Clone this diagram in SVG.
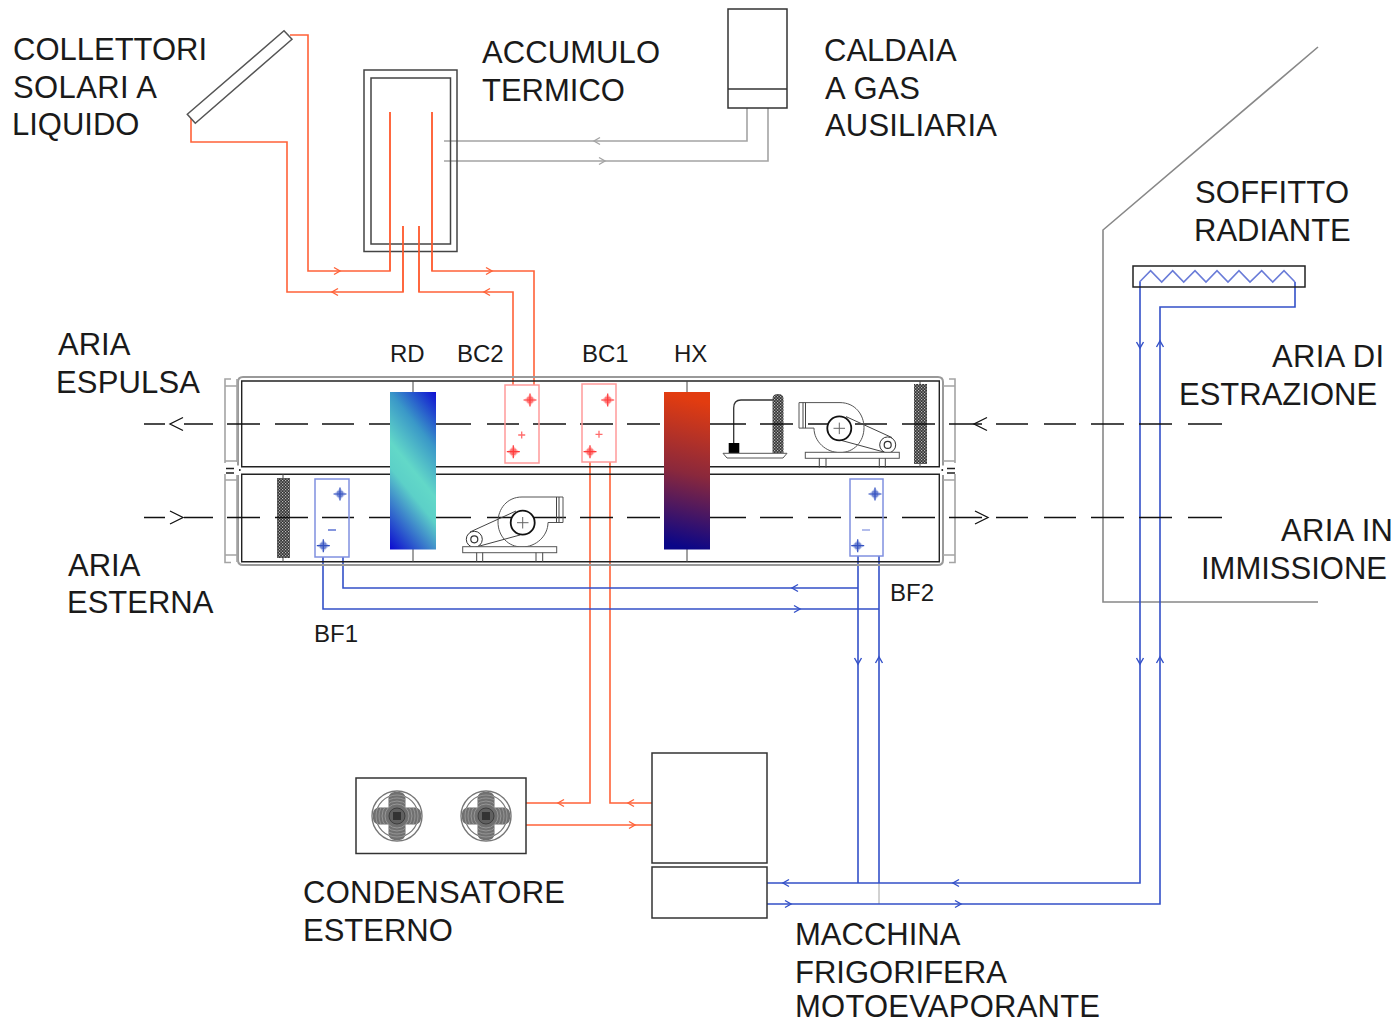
<svg xmlns="http://www.w3.org/2000/svg" width="1400" height="1024" viewBox="0 0 1400 1024">
<style>
text{font-family:"Liberation Sans",Arial,sans-serif;fill:#1a1a1a}
.big{font-size:31px}
.small{font-size:24px}
.k{fill:none;stroke:#333;stroke-width:1.5}
.o{fill:none;stroke:#ff6238;stroke-width:1.6}
.b{fill:none;stroke:#3350c8;stroke-width:1.6}
.g{fill:none;stroke:#a4a4a4;stroke-width:1.6}
.air{fill:none;stroke:#111;stroke-width:1.5}
.casing{fill:none;stroke:#999;stroke-width:2}
.inner{fill:none;stroke:#222;stroke-width:1.5}
.thin{fill:none;stroke:#444;stroke-width:1}
.red{fill:none;stroke:#ff9a9a;stroke-width:1.5}
.blu{fill:none;stroke:#8090e0;stroke-width:1.5}
</style>
<defs>
<linearGradient id="rd" gradientUnits="userSpaceOnUse" x1="465" y1="428" x2="361" y2="512">
<stop offset="0" stop-color="#0f0fd2"/><stop offset="0.27" stop-color="#3a98c8"/><stop offset="0.5" stop-color="#62d8c8"/><stop offset="0.62" stop-color="#5cd0c8"/><stop offset="1" stop-color="#0d0dd0"/>
</linearGradient>
<linearGradient id="hx" gradientUnits="userSpaceOnUse" x1="705" y1="402" x2="672" y2="545">
<stop offset="0" stop-color="#e23c10"/><stop offset="0.5" stop-color="#8a283c"/><stop offset="1" stop-color="#0a0688"/>
</linearGradient>
<pattern id="mesh" width="3" height="3" patternUnits="userSpaceOnUse">
<rect width="3" height="3" fill="#333"/><rect x="0" y="0" width="1.2" height="1.2" fill="#bbb"/><rect x="1.5" y="1.5" width="1.2" height="1.2" fill="#bbb"/>
</pattern>
<clipPath id="blades">
<rect x="-8.5" y="-24" width="17" height="48" rx="6"/><rect x="-24" y="-8.5" width="48" height="17" rx="6"/>
</clipPath>
<path id="chevR" d="M-6,-3.5 L0,0 L-6,3.5" fill="none" stroke-width="1.4"/>
<path id="chevL" d="M6,-3.5 L0,0 L6,3.5" fill="none" stroke-width="1.4"/>
<path id="chevD" d="M-3.5,-6 L0,0 L3.5,-6" fill="none" stroke-width="1.4"/>
<path id="chevU" d="M-3.5,6 L0,0 L3.5,6" fill="none" stroke-width="1.4"/>
<path id="airL" d="M13,-6.5 L0,0 L13,6.5" fill="none" stroke="#111" stroke-width="1.3"/>
<path id="airR" d="M-13,-6.5 L0,0 L-13,6.5" fill="none" stroke="#111" stroke-width="1.3"/>
<g id="valve"><path d="M0,-6 L6,0 L0,6 L-6,0 Z" fill="currentColor" fill-opacity="0.3"/><circle r="3.4" fill="currentColor" fill-opacity="0.55"/><path d="M-6.5,0H6.5M0,-6.5V6.5" stroke="currentColor" stroke-width="1.2" fill="none"/></g>
<g id="plus"><path d="M-3.5,0H3.5M0,-3.5V3.5" stroke="currentColor" stroke-opacity="0.75" stroke-width="1.3" fill="none"/></g>
<g id="blower">
<path d="M563,497 H522 C507,497 498,509 498,522 C498,536 508,547 522,547 C536,547 548,536 548,522.5 H563 Z" fill="none" stroke="#555" stroke-width="1"/>
<path class="thin" d="M556.5,497 V522.5 M559,497 V522.5"/>
<path class="thin" d="M516,511 L470,532 M520,535 L476,547"/>
<circle cx="522.7" cy="522.7" r="12" fill="#fff" stroke="#111" stroke-width="1.8"/>
<path d="M517,522.7H528.5M522.7,517V528.5" stroke="#666" stroke-width="1" fill="none"/>
<circle cx="474.3" cy="539.3" r="8" fill="#fff" stroke="#333" stroke-width="1"/>
<circle cx="474.3" cy="539.3" r="3.5" fill="#fff" stroke="#333" stroke-width="1.2"/>
<rect x="462.7" y="546.7" width="94" height="6" fill="#fff" stroke="#555" stroke-width="1"/>
<path class="thin" d="M476.7,552.7V562M482.7,552.7V562M536,552.7V562M542.7,552.7V562"/>
</g>
<g id="fanwheel">
<circle r="25" fill="#fff" stroke="#777" stroke-width="1.4"/>
<circle r="21" fill="none" stroke="#777" stroke-width="1.2"/>
<g clip-path="url(#blades)">
<rect x="-25" y="-25" width="50" height="50" fill="#707070"/>
<circle r="21" fill="none" stroke="#a0a0a0" stroke-width="0.8"/>
<circle r="18" fill="none" stroke="#a0a0a0" stroke-width="0.8"/>
<circle r="15" fill="none" stroke="#a0a0a0" stroke-width="0.8"/>
<circle r="12" fill="none" stroke="#a0a0a0" stroke-width="0.8"/>
</g>
<circle r="8" fill="#606060" stroke="#333" stroke-width="0.8"/>
<rect x="-4" y="-4" width="8" height="8" fill="#333"/>
</g>
</defs>

<g id="house"><path class="g" style="stroke:#888" d="M1318,47 L1103,230 V602 H1318"/></g>

<g id="connectors">
<path class="o" d="M290,35 H308 V271 H390 V112"/>
<path class="o" d="M191,118 V142 H287 V292 H403 V226"/>
<path class="o" d="M419,226 V292 H513 V385"/>
<path class="o" d="M432,112 V271 H534 V385"/>
<path class="o" d="M590,462 V803 H526"/>
<path class="o" d="M610,462 V803 H652"/>
<path class="o" d="M526,825 H652"/>
<path class="g" d="M747,108 V141 H444"/>
<path class="g" d="M768,108 V161 H444"/>
<path class="b" d="M323,557 V609 H879"/>
<path class="b" d="M343,557 V588 H858"/>
<path class="b" d="M858,556 V883"/>
<path class="b" d="M879,556 V883"/>
<path class="g" d="M879,883 V904" style="stroke-width:1"/>
<path class="b" d="M767,883 H1140 V282"/>
<path class="b" d="M767,904 H1160 V307 H1295 V282"/>
<path class="b" d="M1139.5,282 L1150.6,270.7 L1161.7,282 L1172.7,270.7 L1183.7,282 L1195,270.7 L1206,282 L1217,270.7 L1228,282 L1239,270.7 L1250,282 L1261.7,270.7 L1272.7,282 L1284,270.7 L1295,282" style="stroke:#6a7cd8"/>
<g stroke="#ff6238">
<use href="#chevR" x="340" y="271"/><use href="#chevL" x="332" y="292"/><use href="#chevR" x="492" y="271"/><use href="#chevL" x="484" y="292"/>
<use href="#chevL" x="558" y="803"/><use href="#chevL" x="628" y="803"/><use href="#chevR" x="635" y="825"/>
</g>
<g stroke="#a4a4a4"><use href="#chevL" x="594" y="141"/><use href="#chevR" x="605" y="161"/></g>
<g stroke="#3350c8">
<use href="#chevL" x="792" y="588"/><use href="#chevR" x="800" y="609"/>
<use href="#chevD" x="858" y="664"/><use href="#chevU" x="879" y="657"/>
<use href="#chevD" x="1140" y="348"/><use href="#chevU" x="1160" y="341"/>
<use href="#chevD" x="1140" y="664"/><use href="#chevU" x="1160" y="657"/>
<use href="#chevL" x="783" y="883"/><use href="#chevL" x="953" y="883"/>
<use href="#chevR" x="791" y="904"/><use href="#chevR" x="961" y="904"/>
</g>
</g>

<g id="collettori"><polygon class="k" style="stroke:#555;fill:#fff" points="284,30.7 292,39.3 195.3,123.3 187.3,114.3"/></g>
<g id="accumulo">
<rect class="k" x="364" y="70" width="93" height="181.5" style="stroke:#444"/>
<rect class="k" x="371" y="78" width="79.5" height="166" style="stroke:#444"/>
<path class="o" d="M390,112 V271 M432,112 V271 M403,226 V292 M419,226 V292"/>
</g>
<g id="caldaia"><rect class="k" x="728" y="9" width="59" height="99"/><path class="k" d="M728,89 H787"/></g>

<g id="uta">
<path class="casing" d="M238,465.5 V382 Q238,377 243,377 H938 Q943,377 943,382 V465.5"/>
<path class="casing" d="M238,475 V560 Q238,565 243,565 H938 Q943,565 943,560 V475"/>
<path d="M239,470 h1.6 M941.5,470 h1.6" stroke="#333" stroke-width="2" fill="none"/>
<path class="inner" d="M241.7,381 H939.3 V466.7 H241.7 Z" style="stroke-width:1.4"/>
<path class="inner" d="M241.7,474.3 H939.3 V561.7 H241.7 Z" style="stroke-width:1.4"/>
<path class="g" d="M231,379 H225 V463 M225,386 H237 M237,379 V462 M225,461 H237"/>
<path class="g" d="M231,562.5 H225 V474 M225,555 H237 M237,475 V562 M225,480 H237"/>
<path class="inner" d="M226,468.5 H234 M226,473 H234"/>
<path class="g" d="M949,379 H955 V463 M955,386 H943 M955,461 H943"/>
<path class="g" d="M949,562.5 H955 V474 M955,555 H943 M955,480 H943"/>
<path class="inner" d="M947,468.5 H955 M947,473 H955"/>
<path class="thin" d="M413,381 V392 M413,549 V562 M687,381 V392 M687,549 V562 M283,474 V478 M283,558 V562 M920,381 V384 M920,464 V467"/>
</g>

<g id="filtro-est"><rect x="277" y="478" width="13" height="80" fill="url(#mesh)"/></g>
<g id="filtro-rip"><rect x="914" y="384" width="13" height="80" fill="url(#mesh)"/></g>
<g id="umidificatore">
<path d="M733.7,443 V408 Q733.7,400 741,400 H773" fill="none" stroke="#333" stroke-width="1.3"/>
<path d="M772.5,453 V399 Q772.5,394 778,394 Q783.5,394 783.5,399 V453 Z" fill="url(#mesh)"/>
<rect x="728.7" y="443" width="10.6" height="10" fill="#000"/>
<path d="M723,453.3 H787 L783,458 H727 Z" fill="#fff" stroke="#555" stroke-width="1"/>
</g>

<g id="air-flow">
<path class="air" d="M144,424H165M184,424H213M227,424H260M275,424H308M322,424H354M369,424H391M435,424H471M487,424H519M533,424H566M580,424H613M627,424H660M708,424H746M760,424H793M808,424H841M855,424H887M902,424H935M949,424H982M996,424H1028M1044,424H1076M1091,424H1124M1139,424H1172M1188,424H1222"/>
<path class="air" d="M144,517.5H165M184,517.5H213M227,517.5H260M275,517.5H308M322,517.5H354M369,517.5H391M435,517.5H471M487,517.5H519M533,517.5H566M580,517.5H613M627,517.5H660M708,517.5H746M760,517.5H793M808,517.5H841M855,517.5H887M902,517.5H935M949,517.5H982M996,517.5H1028M1044,517.5H1076M1091,517.5H1124M1139,517.5H1172M1188,517.5H1222"/>
<use href="#airL" x="170" y="424"/><use href="#airL" x="974" y="424"/>
<use href="#airR" x="183" y="517.5"/><use href="#airR" x="988" y="517.5"/>
</g>

<g id="RD"><rect x="390" y="392" width="46" height="157.5" fill="url(#rd)"/></g>
<g id="HX"><rect x="664" y="392" width="46" height="157.5" fill="url(#hx)"/></g>

<g id="BC2" color="#ff3b3b">
<rect class="red" x="505" y="385" width="34" height="78"/>
<use href="#valve" x="530" y="400"/><use href="#plus" x="521.7" y="435"/><use href="#valve" x="513.3" y="451.7"/>
</g>
<g id="BC1" color="#ff3b3b">
<rect class="red" x="582" y="384" width="34" height="78"/>
<use href="#valve" x="607.7" y="400"/><use href="#plus" x="599" y="434.3"/><use href="#valve" x="590" y="451.7"/>
</g>
<g id="BF1" color="#3350c0">
<rect class="blu" x="315" y="479" width="34" height="78"/>
<use href="#valve" x="340" y="494"/><path d="M328,530H336" stroke="#3350c8" stroke-width="1.2"/><use href="#valve" x="323.3" y="545.7"/>
</g>
<g id="BF2" color="#3350c0">
<rect class="blu" x="850" y="479" width="33" height="77"/>
<use href="#valve" x="875" y="494"/><path d="M862,530H870" stroke="#8090e0" stroke-width="1.2"/><use href="#valve" x="857.7" y="545.7"/>
</g>

<g id="ventilatore-mandata"><use href="#blower"/></g>
<g id="ventilatore-ripresa"><use href="#blower" transform="translate(1362,-94.4) scale(-1,1)"/></g>

<g id="condensatore">
<rect class="k" x="356" y="778" width="170" height="75.5"/>
<use href="#fanwheel" x="397" y="816"/><use href="#fanwheel" x="486" y="816"/>
</g>
<g id="macchina">
<rect class="k" x="652" y="753" width="115" height="110"/>
<rect class="k" x="652" y="867" width="115" height="51"/>
</g>
<g id="soffitto"><rect class="k" x="1133" y="266" width="172" height="21" style="stroke:#222"/></g>

<g id="labels">
<text class="big" x="13" y="60">COLLETTORI</text>
<text class="big" x="13" y="98" textLength="144">SOLARI A</text>
<text class="big" x="12" y="135">LIQUIDO</text>
<text class="big" x="482" y="63" textLength="178">ACCUMULO</text>
<text class="big" x="482" y="101">TERMICO</text>
<text class="big" x="824" y="61">CALDAIA</text>
<text class="big" x="825" y="99" textLength="95">A GAS</text>
<text class="big" x="825" y="136" textLength="172">AUSILIARIA</text>
<text class="big" x="1195" y="203" textLength="154">SOFFITTO</text>
<text class="big" x="1194" y="241">RADIANTE</text>
<text class="big" x="58" y="355">ARIA</text>
<text class="big" x="56" y="393" textLength="144">ESPULSA</text>
<text class="big" x="1272" y="367" textLength="112">ARIA DI</text>
<text class="big" x="1179" y="405">ESTRAZIONE</text>
<text class="big" x="68" y="576">ARIA</text>
<text class="big" x="67" y="613">ESTERNA</text>
<text class="big" x="1281" y="541" textLength="112">ARIA IN</text>
<text class="big" x="1201" y="579">IMMISSIONE</text>
<text class="big" x="303" y="903" textLength="262">CONDENSATORE</text>
<text class="big" x="303" y="941">ESTERNO</text>
<text class="big" x="795" y="945">MACCHINA</text>
<text class="big" x="795" y="983">FRIGORIFERA</text>
<text class="big" x="795" y="1017" textLength="305">MOTOEVAPORANTE</text>
<text class="small" x="390" y="362">RD</text>
<text class="small" x="457" y="362">BC2</text>
<text class="small" x="582" y="362">BC1</text>
<text class="small" x="674" y="362">HX</text>
<text class="small" x="890" y="601">BF2</text>
<text class="small" x="314" y="642">BF1</text>
</g>
</svg>
